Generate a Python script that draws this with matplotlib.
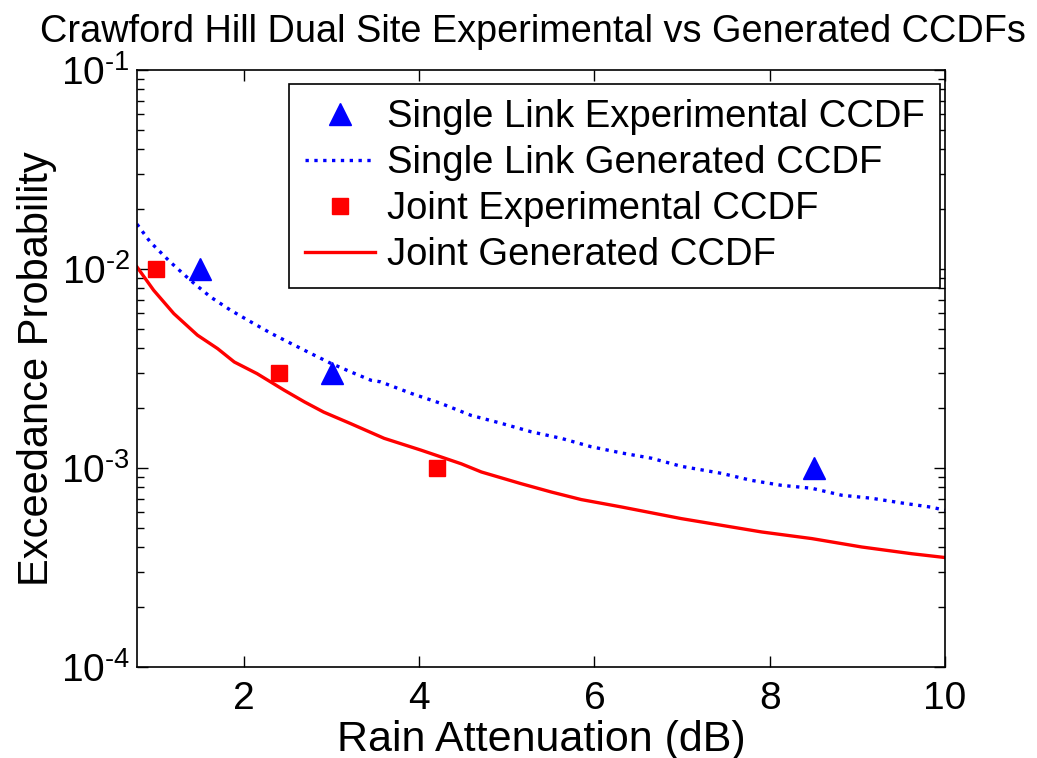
import matplotlib
matplotlib.use('Agg')
import matplotlib.pyplot as plt
import numpy as np
from matplotlib.ticker import LogLocator, NullFormatter, MultipleLocator, FuncFormatter

plt.rcParams['font.family'] = ['Liberation Sans', 'DejaVu Sans']
plt.rcParams['mathtext.fontset'] = 'custom'
plt.rcParams['mathtext.rm'] = 'Liberation Sans'
plt.rcParams['mathtext.it'] = 'Liberation Sans:italic'

# Experimental CCDF points
single_exp_x = [1.5, 3.0, 8.5]
single_exp_p = [1e-2, 3e-3, 1e-3]
joint_exp_x = [1.0, 2.4, 4.2]
joint_exp_p = [1e-2, 3e-3, 1e-3]

# Generated CCDF curves
single_gen_x = [0.78, 0.93, 1.16, 1.39, 1.62, 1.85, 2.08, 2.31, 2.53, 2.76,
                2.99, 3.22, 3.45, 3.56, 3.91, 4.25, 4.59, 4.93, 5.28, 5.62,
                5.96, 6.31, 6.65, 6.99, 7.45, 7.79, 8.13, 8.48, 8.82, 9.16,
                9.51, 9.85, 10.0]
single_gen_p = [0.0168, 0.01368, 0.01084, 0.00877, 0.00723, 0.0062, 0.00542,
                0.00475, 0.00424, 0.00377, 0.00336, 0.00304, 0.00276, 0.00271,
                0.00237, 0.00211, 0.00184, 0.00168, 0.00152, 0.00141, 0.00128,
                0.00119, 0.00112, 0.00102, 0.00094, 0.000867, 0.000819,
                0.000791, 0.00073, 0.000705, 0.000667, 0.000635, 0.000613]
joint_gen_x = [0.78, 0.97, 1.20, 1.47, 1.70, 1.89, 2.15, 2.46, 2.69, 2.91,
               3.22, 3.60, 4.02, 4.48, 4.71, 5.16, 5.51, 5.85, 6.31, 6.99,
               7.33, 7.91, 8.48, 9.05, 9.62, 10.0]
joint_gen_p = [0.01024, 0.00782, 0.00597, 0.00465, 0.00398, 0.00341, 0.00298,
               0.00246, 0.00215, 0.00191, 0.00167, 0.00141, 0.00123, 0.00105,
               0.000955, 0.000835, 0.000757, 0.000694, 0.000637, 0.000557,
               0.000526, 0.000477, 0.000442, 0.000401, 0.000371, 0.000355]


def potencia(v, pos):
    # 10^-n with a plain hyphen in the exponent
    n = int(round(np.log10(v)))
    signo = r'\text{-}' if n < 0 else ''
    return r'$\mathdefault{10^{%s%d}}$' % (signo, abs(n))


fig = plt.figure(figsize=(10.37, 7.58), dpi=100)
ax = fig.add_axes([0.1321, 0.12, 0.7792, 0.7877])

ax.semilogy(single_exp_x, single_exp_p, '^', color='blue', ms=16, mec='blue',
            label='Single Link Experimental CCDF')
ax.semilogy(single_gen_x, single_gen_p, ':', color='blue', lw=2.4,
            label='Single Link Generated CCDF')
ax.semilogy(joint_exp_x, joint_exp_p, 's', color='red', ms=12, mec='red',
            label='Joint Experimental CCDF')
ax.semilogy(joint_gen_x, joint_gen_p, '-', color='red', lw=2.4,
            label='Joint Generated CCDF')

ax.set_xlim(0.78, 10)
ax.set_ylim(1e-4, 1e-1)
ax.xaxis.set_major_locator(MultipleLocator(2))
ax.yaxis.set_major_locator(LogLocator(base=10, numticks=10))
ax.yaxis.set_major_formatter(FuncFormatter(potencia))
ax.yaxis.set_minor_locator(LogLocator(base=10, subs=range(2, 10), numticks=10))
ax.yaxis.set_minor_formatter(NullFormatter())
ax.tick_params(which='both', direction='in', top=True, right=True,
               labelsize=28, width=1, colors='black')
ax.tick_params(which='major', length=8)
ax.tick_params(which='minor', length=5)
ax.tick_params(axis='x', which='major', pad=10)
ax.tick_params(axis='y', which='major', pad=5)
for s in ax.spines.values():
    s.set_linewidth(1.2)

ax.set_xlabel('Rain Attenuation (dB)', fontsize=31, labelpad=2)
ax.set_ylabel('Exceedance Probability', fontsize=30, labelpad=3)
ax.set_title('Crawford Hill Dual Site Experimental vs Generated CCDFs',
             fontsize=27.3, pad=20, x=0.49)

leg = ax.legend(loc='upper right', bbox_to_anchor=(0.9938, 0.9765),
                borderaxespad=0, fontsize=27.5, numpoints=1, fancybox=False,
                edgecolor='black', framealpha=1, handlelength=1.85,
                handletextpad=0.3, labelspacing=0.26, borderpad=0.4)
leg.get_frame().set_linewidth(1.2)

fig.savefig('out.png', dpi=100)
